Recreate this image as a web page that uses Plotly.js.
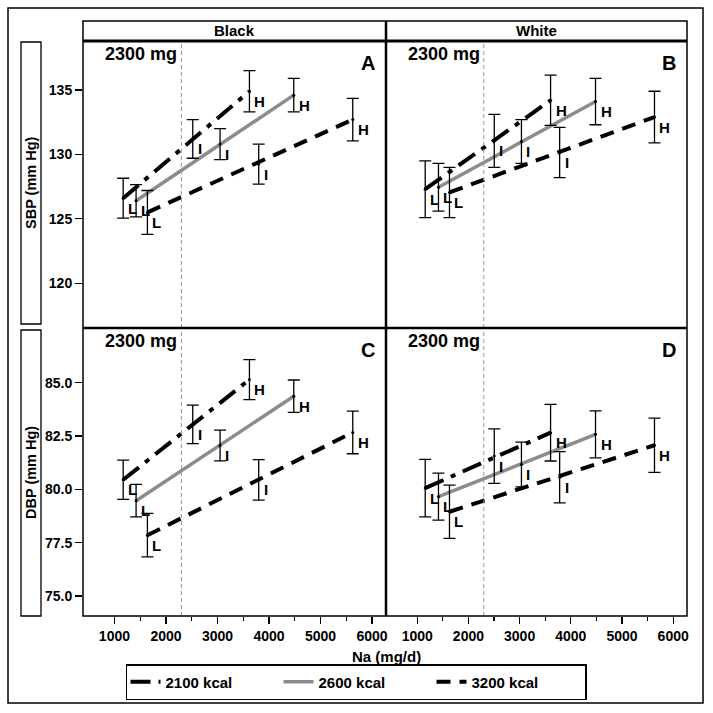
<!DOCTYPE html>
<html>
<head>
<meta charset="utf-8">
<script src="https://cdn.plot.ly/plotly-3.0.1.min.js"></script>
<style>html,body{margin:0;padding:0;background:#fff;}#chart{width:713px;height:713px;}</style>
</head>
<body>
<div id="chart"></div>
<script>
// ---------- data ----------
const races = ['Black', 'White'];
const panelLetters = ['A', 'B', 'C', 'D'];
const kcalLabels = ['2100 kcal', '2600 kcal', '3200 kcal'];
const levelLabels = ['L', 'I', 'H'];
const guideNa = 2300;
const guideLabel = '2300 mg';

const naBlack2100 = [1170, 2520, 3620];
const naBlack2600 = [1420, 3050, 4480];
const naBlack3200 = [1640, 3800, 5625];
const naWhite2100 = [1156, 2505, 3605];
const naWhite2600 = [1415, 3036, 4483];
const naWhite3200 = [1630, 3782, 5635];

const sbpBlack2100 = [126.6, 131.2, 134.9];
const sbpBlack2600 = [126.4, 130.8, 134.6];
const sbpBlack3200 = [125.5, 129.25, 132.7];
const sbpBlackErr2100 = [1.55, 1.5, 1.6];
const sbpBlackErr2600 = [1.25, 1.2, 1.3];
const sbpBlackErr3200 = [1.7, 1.55, 1.65];

const sbpWhite2100 = [127.3, 131.05, 134.2];
const sbpWhite2600 = [127.45, 131.0, 134.1];
const sbpWhite3200 = [127.05, 130.15, 132.9];
const sbpWhiteErr2100 = [2.2, 2.05, 1.95];
const sbpWhiteErr2600 = [1.85, 1.7, 1.8];
const sbpWhiteErr3200 = [1.95, 1.95, 2.0];

const dbpBlack2100 = [80.45, 83.05, 85.15];
const dbpBlack2600 = [79.47, 82.06, 84.37];
const dbpBlack3200 = [77.85, 80.45, 82.67];
const dbpBlackErr2100 = [0.92, 0.9, 0.94];
const dbpBlackErr2600 = [0.76, 0.72, 0.76];
const dbpBlackErr3200 = [1.02, 0.95, 1.0];

const dbpWhite2100 = [80.06, 81.56, 82.66];
const dbpWhite2600 = [79.66, 81.17, 82.58];
const dbpWhite3200 = [78.95, 80.57, 82.07];
const dbpWhiteErr2100 = [1.35, 1.28, 1.33];
const dbpWhiteErr2600 = [1.1, 1.05, 1.1];
const dbpWhiteErr3200 = [1.25, 1.2, 1.27];

const xTickVals = [1000, 2000, 3000, 4000, 5000, 6000];
const xMinorVals = [1500, 2500, 3500, 4500, 5500];
const sbpTickVals = [120, 125, 130, 135];
const dbpTickVals = [75, 77.5, 80, 82.5, 85];

// ---------- styling ----------
const W = 713, H = 713;
const px = v => v / W;          // pixel -> paper x
const py = v => 1 - v / H;      // pixel -> paper y
const FONT = 'Liberation Sans, Arial, Helvetica, sans-serif';
const seriesStyle = [
  {color: '#000000', width: 4, dash: '20px,8px,5px,8px'},
  {color: 'rgb(140,140,140)', width: 3.5, dash: 'solid'},
  {color: '#000000', width: 4, dash: '14px,9px'}
];

const panels = [
  {xa: 'x',  ya: 'y',  na: [naBlack2100, naBlack2600, naBlack3200], v: [sbpBlack2100, sbpBlack2600, sbpBlack3200], e: [sbpBlackErr2100, sbpBlackErr2600, sbpBlackErr3200]},
  {xa: 'x2', ya: 'y2', na: [naWhite2100, naWhite2600, naWhite3200], v: [sbpWhite2100, sbpWhite2600, sbpWhite3200], e: [sbpWhiteErr2100, sbpWhiteErr2600, sbpWhiteErr3200]},
  {xa: 'x3', ya: 'y3', na: [naBlack2100, naBlack2600, naBlack3200], v: [dbpBlack2100, dbpBlack2600, dbpBlack3200], e: [dbpBlackErr2100, dbpBlackErr2600, dbpBlackErr3200]},
  {xa: 'x4', ya: 'y4', na: [naWhite2100, naWhite2600, naWhite3200], v: [dbpWhite2100, dbpWhite2600, dbpWhite3200], e: [dbpWhiteErr2100, dbpWhiteErr2600, dbpWhiteErr3200]}
];

const traces = [];
const annotations = [];
const shapes = [];

panels.forEach((p, pi) => {
  for (let s = 0; s < 3; s++) {
    const st = seriesStyle[s];
    // fitted line from L to H
    traces.push({
      type: 'scatter', mode: 'lines', xaxis: p.xa, yaxis: p.ya,
      x: [p.na[s][0], p.na[s][2]], y: [p.v[s][0], p.v[s][2]],
      line: {color: st.color, width: st.width, dash: st.dash},
      name: kcalLabels[s], legendgroup: kcalLabels[s], showlegend: pi === 0,
      hoverinfo: 'skip'
    });
  }
  for (let s = 0; s < 3; s++) {
    traces.push({
      type: 'scatter', mode: 'markers', xaxis: p.xa, yaxis: p.ya,
      x: p.na[s], y: p.v[s],
      marker: {color: '#000', size: 3},
      error_y: {type: 'data', array: p.e[s], visible: true, color: '#000', thickness: 1.3, width: 6},
      showlegend: false, hoverinfo: 'skip'
    });
    p.na[s].forEach((xv, k) => {
      annotations.push({
        xref: p.xa, yref: p.ya, x: xv, y: p.v[s][k],
        text: '<b>' + levelLabels[k] + '</b>', showarrow: false,
        xanchor: 'left', yanchor: 'middle', xshift: 3, yshift: -10,
        font: {family: FONT, size: 15, color: '#000'}
      });
    });
  }
  // 2300 mg guide line
  shapes.push({type: 'line', xref: p.xa, yref: p.ya + ' domain', x0: guideNa, x1: guideNa, y0: 0, y1: 1,
    line: {color: 'rgb(150,150,150)', width: 1, dash: '4px,3px'}});
  annotations.push({xref: p.xa, yref: p.ya + ' domain', x: guideNa, y: 0.955, xanchor: 'right', yanchor: 'middle', xshift: -2,
    text: '<b>' + guideLabel + '</b>', showarrow: false, font: {family: FONT, size: 18, color: '#000'}});
  annotations.push({xref: p.xa + ' domain', yref: p.ya + ' domain', x: 0.97, y: 0.923, xanchor: 'right', yanchor: 'middle',
    text: '<b>' + panelLetters[pi] + '</b>', showarrow: false, font: {family: FONT, size: 20, color: '#000'}});
});

// frames, strips, title boxes
const L = 83, M = 386, R = 687, T = 41, MID = 328, B = 616, ST = 21;
const rect = (x0, y0, x1, y1, w) => ({type: 'rect', xref: 'paper', yref: 'paper', x0: px(x0), x1: px(x1), y0: py(y0), y1: py(y1), line: {color: '#000', width: w}, fillcolor: 'rgba(0,0,0,0)', layer: 'above'});
const line = (x0, y0, x1, y1, w, c) => ({type: 'line', xref: 'paper', yref: 'paper', x0: px(x0), x1: px(x1), y0: py(y0), y1: py(y1), line: {color: c || '#000', width: w}, layer: 'above'});
shapes.push(rect(8, 8, 703, 703, 1.5));
shapes.push(rect(L, ST, R, B, 1.5));
shapes.push(line(L, T, R, T, 3));
shapes.push(line(M, ST, M, B, 2.5));
shapes.push(line(L, MID, R, MID, 2.5));
shapes.push(rect(21, 42, 41, 324, 1.3));
shapes.push(rect(21, 330, 41, 616, 1.3));

races.forEach((r, i) => {
  annotations.push({xref: 'paper', yref: 'paper', x: px(i === 0 ? (L + M) / 2 : (M + R) / 2), y: py(31), xanchor: 'center', yanchor: 'middle',
    text: '<b>' + r + '</b>', showarrow: false, font: {family: FONT, size: 15, color: '#000'}});
});
annotations.push({xref: 'paper', yref: 'paper', x: px(31), y: py(183), textangle: -90, xanchor: 'center', yanchor: 'middle',
  text: '<b>SBP (mm Hg)</b>', showarrow: false, font: {family: FONT, size: 14.5, color: '#000'}});
annotations.push({xref: 'paper', yref: 'paper', x: px(31), y: py(473), textangle: -90, xanchor: 'center', yanchor: 'middle',
  text: '<b>DBP (mm Hg)</b>', showarrow: false, font: {family: FONT, size: 14.5, color: '#000'}});
annotations.push({xref: 'paper', yref: 'paper', x: px(386), y: py(656), xanchor: 'center', yanchor: 'middle',
  text: '<b>Na (mg/d)</b>', showarrow: false, font: {family: FONT, size: 15, color: '#000'}});

const xRange = [390, 6270];
const sbpRange = [116.53, 138.8];
const dbpRange = [74.06, 87.57];
const tickFont = {family: FONT, size: 14, color: '#000', weight: 'bold'};
const baseX = {range: xRange, showgrid: false, zeroline: false, showline: false, fixedrange: true};
const baseY = {showgrid: false, zeroline: false, showline: false, fixedrange: true};
const xTicked = Object.assign({}, baseX, {
  tickmode: 'array', tickvals: xTickVals, ticks: 'outside', ticklen: 7, tickwidth: 1.3, tickcolor: '#000',
  tickfont: tickFont,
  minor: {tickmode: 'array', tickvals: xMinorVals, ticks: 'outside', ticklen: 4, tickwidth: 1.3, tickcolor: '#000', showgrid: false}
});
const xBare = Object.assign({}, baseX, {showticklabels: false, ticks: ''});

const layout = {
  width: W, height: H,
  margin: {l: 0, r: 0, t: 0, b: 0, autoexpand: false},
  paper_bgcolor: '#fff', plot_bgcolor: 'rgba(0,0,0,0)',
  font: {family: FONT, color: '#000'},
  xaxis:  Object.assign({}, xBare, {domain: [px(L), px(M)], anchor: 'y'}),
  xaxis2: Object.assign({}, xBare, {domain: [px(M), px(R)], anchor: 'y2'}),
  xaxis3: Object.assign({}, xTicked, {domain: [px(L), px(M)], anchor: 'y3'}),
  xaxis4: Object.assign({}, xTicked, {domain: [px(M), px(R)], anchor: 'y4'}),
  yaxis:  Object.assign({}, baseY, {domain: [py(MID), py(T)], anchor: 'x', range: sbpRange, tickmode: 'array', tickvals: sbpTickVals,
            ticks: 'outside', ticklen: 7, tickwidth: 1.3, tickcolor: '#000', tickfont: tickFont}),
  yaxis2: Object.assign({}, baseY, {domain: [py(MID), py(T)], anchor: 'x2', range: sbpRange, showticklabels: false, ticks: ''}),
  yaxis3: Object.assign({}, baseY, {domain: [py(B), py(MID)], anchor: 'x3', range: dbpRange, tickmode: 'array', tickvals: dbpTickVals,
            tickformat: '.1f', ticks: 'outside', ticklen: 7, tickwidth: 1.3, tickcolor: '#000', tickfont: tickFont}),
  yaxis4: Object.assign({}, baseY, {domain: [py(B), py(MID)], anchor: 'x4', range: dbpRange, showticklabels: false, ticks: ''}),
  showlegend: true,
  legend: {orientation: 'h', x: px(356), xanchor: 'center', y: py(682), yanchor: 'middle',
    bordercolor: '#000', borderwidth: 1.5, bgcolor: '#fff', entrywidth: 108, entrywidthmode: 'pixels',
    font: {family: FONT, size: 15, color: '#000', weight: 'bold'}, tracegroupgap: 0, itemclick: false, itemdoubleclick: false},
  shapes: shapes,
  annotations: annotations
};

Plotly.newPlot('chart', traces, layout, {staticPlot: true, displayModeBar: false});
</script>
</body>
</html>
